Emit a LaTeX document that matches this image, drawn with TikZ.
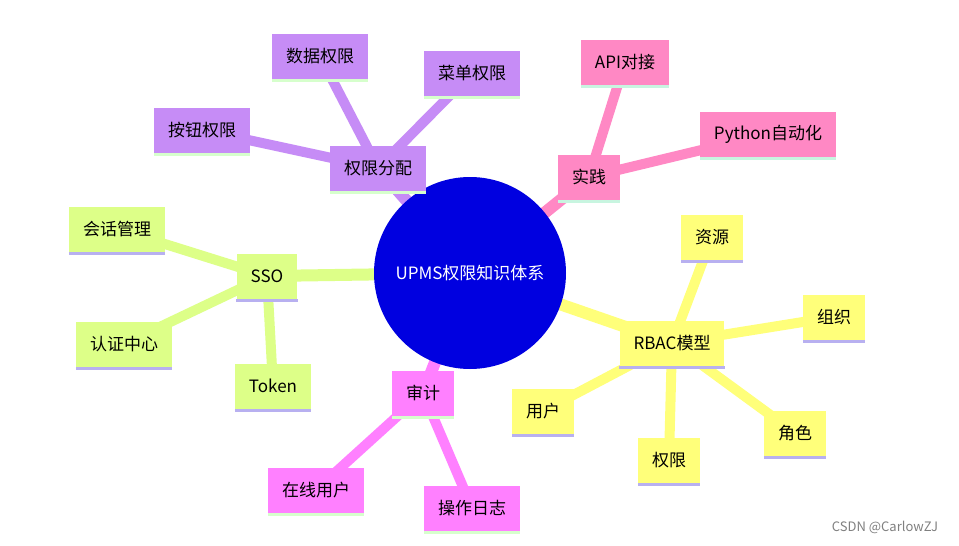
\documentclass[tikz,border=0pt]{standalone}
\usepackage{fontspec}
\setmainfont{Noto Sans CJK SC}
\begin{document}
\begin{tikzpicture}[x=1pt,y=-1pt,
 box/.style={minimum height=45pt,inner xsep=14pt,font=\fontsize{17}{19}\selectfont,text=black},
 edge/.style={line width=12pt},
 leaf/.style={line width=10pt}]
\definecolor{cpur}{HTML}{C68CF6}\definecolor{cpink}{HTML}{FF88C4}
\definecolor{cyel}{HTML}{FFFF7A}\definecolor{cgrn}{HTML}{DDFF88}
\definecolor{cmag}{HTML}{FF80FF}\definecolor{cblue}{HTML}{0000E0}
\definecolor{bgrn}{HTML}{D6FFCC}\definecolor{bmint}{HTML}{C8F5E0}\definecolor{blav}{HTML}{B8B0F0}
\useasboundingbox (0,0) rectangle (959,546);
\fill[white] (0,0) rectangle (959,546);
\newcommand\bx[5]{\node[box,fill=#3] (#1) at (#2) {#4};
 \fill[#5] (#1.south west) rectangle ([yshift=-3pt]#1.south east);}
\coordinate (c) at (470,273);
% edges
\draw[edge,cpur] (c) -- (378,168);
\draw[edge,cpink] (c) -- (589,177);
\draw[edge,cyel] (c) -- (672,343);
\draw[edge,cgrn] (c) -- (267,276);
\draw[edge,cmag] (c) -- (423,393);
\draw[leaf,cpur] (378,168) -- (320,56) (378,168) -- (472,73) (378,168) -- (202,130);
\draw[leaf,cpink] (589,177) -- (625,62) (589,177) -- (768,134);
\draw[leaf,cyel] (672,343) -- (712,237) (672,343) -- (834,317) (672,343) -- (795,433) (672,343) -- (669,460) (672,343) -- (543,411);
\draw[leaf,cgrn] (267,276) -- (117,229) (267,276) -- (124,344) (267,276) -- (273,386);
\draw[leaf,cmag] (423,393) -- (316,490) (423,393) -- (472,508);
\node[circle,fill=cblue,minimum size=192pt,text=white,font=\fontsize{17}{19}\selectfont] (root) at (c) {UPMS权限知识体系};
\bx{a}{378,168}{cpur}{权限分配}{bgrn}
\bx{a1}{320,56}{cpur}{数据权限}{bgrn}
\bx{a2}{472,73}{cpur}{菜单权限}{bgrn}
\bx{a3}{202,130}{cpur}{按钮权限}{bgrn}
\bx{b}{589,177}{cpink}{实践}{bmint}
\bx{b1}{625,62}{cpink}{API对接}{bmint}
\bx{b2}{768,134}{cpink}{Python自动化}{bmint}
\bx{r}{672,343}{cyel}{RBAC模型}{blav}
\bx{r1}{712,237}{cyel}{资源}{blav}
\bx{r2}{834,317}{cyel}{组织}{blav}
\bx{r3}{795,433}{cyel}{角色}{blav}
\bx{r4}{669,460}{cyel}{权限}{blav}
\bx{r5}{543,411}{cyel}{用户}{blav}
\bx{s}{267,276}{cgrn}{SSO}{blav}
\bx{s1}{117,229}{cgrn}{会话管理}{blav}
\bx{s2}{124,344}{cgrn}{认证中心}{blav}
\bx{s3}{273,386}{cgrn}{Token}{blav}
\bx{d}{423,393}{cmag}{审计}{bgrn}
\bx{d1}{316,490}{cmag}{在线用户}{bgrn}
\bx{d2}{472,508}{cmag}{操作日志}{bgrn}
\node[text=gray,font=\fontsize{13}{15}\selectfont] (wm) at (885,527) {CSDN @CarlowZJ};
\end{tikzpicture}
\end{document}
